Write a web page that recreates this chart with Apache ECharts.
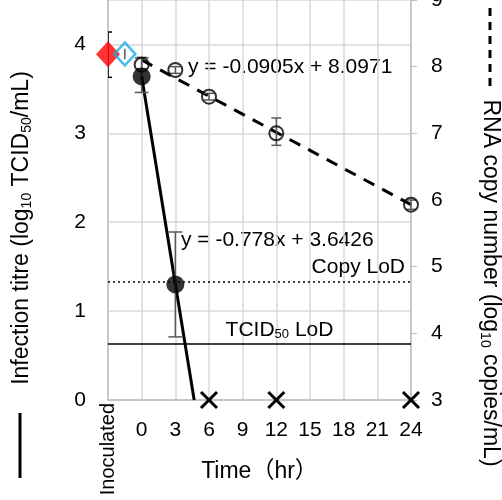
<!DOCTYPE html>
<html>
<head>
<meta charset="utf-8">
<script src="https://cdn.jsdelivr.net/npm/echarts@6/dist/echarts.min.js"></script>
<style>
  html, body { margin: 0; padding: 0; background: #fff; }
  #main { width: 502px; height: 500px; }
</style>
</head>
<body>
<div id="main"></div>
<script>
// time in hr; -3 stands for the "Inoculated" sample
var inocTitre = [[-3, 3.89]];
var inocTitreErr = [[-3, 3.63, 4.14]];
var inocRna = [[-1.5, 8.19]];
var inocRnaErr = [[-1.5, 8.11, 8.27]];

var titrePts = [[0, 3.64], [3, 1.30]];
var titreErr = [[0, 3.46, 3.85], [3, 0.71, 1.89]];
var titreTrend = [[0, 3.64], [4.68, 0]];
var titreNd = [[6, 0], [12, 0], [24, 0]];

var rnaPts = [[0, 8.03], [3, 7.95], [6, 7.55], [12, 7.00], [24, 5.93]];
var rnaErr = [[0, 7.97, 8.14], [3, 7.90, 8.00], [6, 7.50, 7.60], [12, 6.82, 7.23], [24, 5.86, 6.00]];
var rnaTrend = [[0, 8.10], [24, 5.93]];

var copyLod = 4.77;
var tcidLod = 0.63;

var FONT = 'Liberation Sans, Arial, Noto Sans CJK SC, sans-serif';

function errBar(color, cap) {
    return function (params, api) {
        var x = api.value(0);
        var lo = api.coord([x, api.value(1)]);
        var hi = api.coord([x, api.value(2)]);
        var st = { stroke: color, lineWidth: 1.5 };
        return {
            type: 'group',
            children: [
                { type: 'line', shape: { x1: lo[0], y1: lo[1], x2: hi[0], y2: hi[1] }, style: st },
                { type: 'line', shape: { x1: lo[0] - cap, y1: lo[1], x2: lo[0] + cap, y2: lo[1] }, style: st },
                { type: 'line', shape: { x1: hi[0] - cap, y1: hi[1], x2: hi[0] + cap, y2: hi[1] }, style: st }
            ]
        };
    };
}

function crossMark(params, api) {
    var p = api.coord([api.value(0), api.value(1)]);
    var r = 8;
    var st = { stroke: '#000', lineWidth: 3 };
    return {
        type: 'group',
        children: [
            { type: 'line', shape: { x1: p[0] - r, y1: p[1] - r, x2: p[0] + r, y2: p[1] + r }, style: st },
            { type: 'line', shape: { x1: p[0] - r, y1: p[1] + r, x2: p[0] + r, y2: p[1] - r }, style: st }
        ]
    };
}

var myChart = echarts.init(document.getElementById('main'));

myChart.setOption({
    animation: false,
    grid: { left: 108, right: 91, top: 0, bottom: 100, outerBoundsMode: 'none' },
    textStyle: { fontFamily: FONT },
    xAxis: [
        {
            type: 'value',
            min: -3, max: 24, interval: 3,
            name: 'Time（hr）',
            nameLocation: 'middle',
            nameGap: 60,
            nameTextStyle: { fontSize: 23, color: '#000', fontFamily: FONT },
            axisLine: { onZero: false, lineStyle: { color: '#bfbfbf', width: 1.5 } },
            axisTick: { show: false },
            splitLine: { lineStyle: { color: '#d9d9d9', width: 1.5 } },
            axisLabel: {
                fontSize: 21, color: '#000', margin: 20,
                formatter: function (v) { return v < 0 ? '' : String(v); }
            }
        },
        {
            type: 'value',
            position: 'bottom',
            min: -3, max: 24, interval: 3,
            axisLine: { show: false },
            axisTick: { show: false },
            splitLine: { show: false },
            axisLabel: {
                rotate: 90, fontSize: 20, color: '#000', margin: 3,
                formatter: function (v) { return v < 0 ? 'Inoculated' : ''; }
            }
        }
    ],
    yAxis: [
        {
            type: 'value',
            min: 0, max: 4.5, interval: 1,
            axisLine: { show: true, onZero: false, lineStyle: { color: '#bfbfbf', width: 1.5 } },
            axisTick: { show: false },
            splitLine: { lineStyle: { color: '#d9d9d9', width: 1.5 } },
            axisLabel: {
                fontSize: 21, color: '#000', margin: 22,
                formatter: function (v) { return v % 1 === 0 ? String(v) : ''; }
            }
        },
        {
            type: 'value',
            min: 3, max: 9, interval: 1,
            position: 'right',
            axisLine: { show: true, onZero: false, lineStyle: { color: '#bfbfbf', width: 1.5 } },
            axisTick: { show: true, length: 6, lineStyle: { color: '#bfbfbf' } },
            splitLine: { show: false },
            axisLabel: { fontSize: 21, color: '#000', margin: 20 }
        }
    ],
    series: [
        {
            name: 'rna trend', type: 'line', yAxisIndex: 1, data: rnaTrend,
            symbol: 'none', z: 3,
            lineStyle: { color: '#000', width: 3, type: [12, 9] },
            markLine: {
                silent: true, symbol: 'none',
                lineStyle: { color: '#000', width: 1.5, type: [2, 3] },
                label: {
                    position: 'insideEndTop', fontSize: 21, color: '#000',
                    formatter: 'Copy LoD', distance: [6, 4]
                },
                data: [{ yAxis: copyLod }]
            }
        },
        {
            name: 'rna err', type: 'custom', yAxisIndex: 1, data: rnaErr,
            renderItem: errBar('#595959', 5), z: 4
        },
        {
            name: 'rna', type: 'scatter', yAxisIndex: 1, data: rnaPts,
            symbol: 'circle', symbolSize: 14, z: 5,
            itemStyle: { color: 'rgba(255,255,255,0)', borderColor: '#000', borderWidth: 2 }
        },
        {
            name: 'titre trend', type: 'line', data: titreTrend,
            symbol: 'none', z: 3,
            lineStyle: { color: '#000', width: 3 },
            markLine: {
                silent: true, symbol: 'none',
                lineStyle: { color: '#000', width: 1.5, type: 'solid' },
                label: {
                    position: 'insideMiddleTop', fontSize: 21, color: '#000',
                    formatter: 'TCID{sub|50} LoD', distance: [0, 3],
                    offset: [20, 0],
                    rich: { sub: { fontSize: 13, verticalAlign: 'bottom', padding: [9, 0, 0, 0] } }
                },
                data: [{ yAxis: tcidLod }]
            }
        },
        {
            name: 'titre err', type: 'custom', data: titreErr,
            renderItem: errBar('#595959', 7), z: 4
        },
        {
            name: 'titre', type: 'scatter', data: titrePts,
            symbol: 'circle', symbolSize: 18, z: 5,
            itemStyle: { color: '#000' }
        },
        {
            name: 'not detected', type: 'custom', data: titreNd,
            renderItem: crossMark, clip: false, z: 6
        },
        {
            name: 'inoc titre err', type: 'custom', data: inocTitreErr,
            renderItem: errBar('#000', 4), clip: true, z: 4
        },
        {
            name: 'inoc titre', type: 'scatter', data: inocTitre,
            symbol: 'diamond', symbolSize: [24, 26], z: 5,
            itemStyle: { color: '#ff0000' }
        },
        {
            name: 'inoc rna err', type: 'custom', yAxisIndex: 1, data: inocRnaErr,
            renderItem: errBar('#595959', 0), z: 6
        },
        {
            name: 'inoc rna', type: 'scatter', yAxisIndex: 1, data: inocRna,
            symbol: 'diamond', symbolSize: [21, 23], z: 5,
            itemStyle: { color: 'rgba(255,255,255,0)', borderColor: '#16aee6', borderWidth: 2.5 }
        }
    ],
    graphic: [
        {
            type: 'text', x: 188, y: 67,
            style: { text: 'y = -0.0905x + 8.0971', font: '21px ' + FONT, fill: '#000', verticalAlign: 'middle' }
        },
        {
            type: 'text', x: 181, y: 240,
            style: { text: 'y = -0.778x + 3.6426', font: '21px ' + FONT, fill: '#000', verticalAlign: 'middle' }
        },
        {
            type: 'text', x: 22, y: 228, rotation: Math.PI / 2,
            style: {
                text: 'Infection titre (log{sub|10} TCID{sub|50}/mL)',
                font: '23px ' + FONT, fill: '#000', align: 'center', verticalAlign: 'middle',
                rich: { sub: { fontSize: 14, fontFamily: FONT, verticalAlign: 'bottom', padding: [10, 0, 0, 0] } }
            }
        },
        {
            type: 'line', shape: { x1: 20, y1: 413, x2: 20, y2: 478 },
            style: { stroke: '#000', lineWidth: 3 }
        },
        {
            type: 'text', x: 490, y: 283, rotation: -Math.PI / 2,
            style: {
                text: 'RNA copy number (log{sub|10} copies/mL)',
                font: '23px ' + FONT, fill: '#000', align: 'center', verticalAlign: 'middle',
                rich: { sub: { fontSize: 14, fontFamily: FONT, verticalAlign: 'bottom', padding: [10, 0, 0, 0] } }
            }
        },
        {
            type: 'line', shape: { x1: 490, y1: 8, x2: 490, y2: 92 },
            style: { stroke: '#000', lineWidth: 3, lineDash: [8, 6] }
        }
    ]
});
</script>
</body>
</html>
